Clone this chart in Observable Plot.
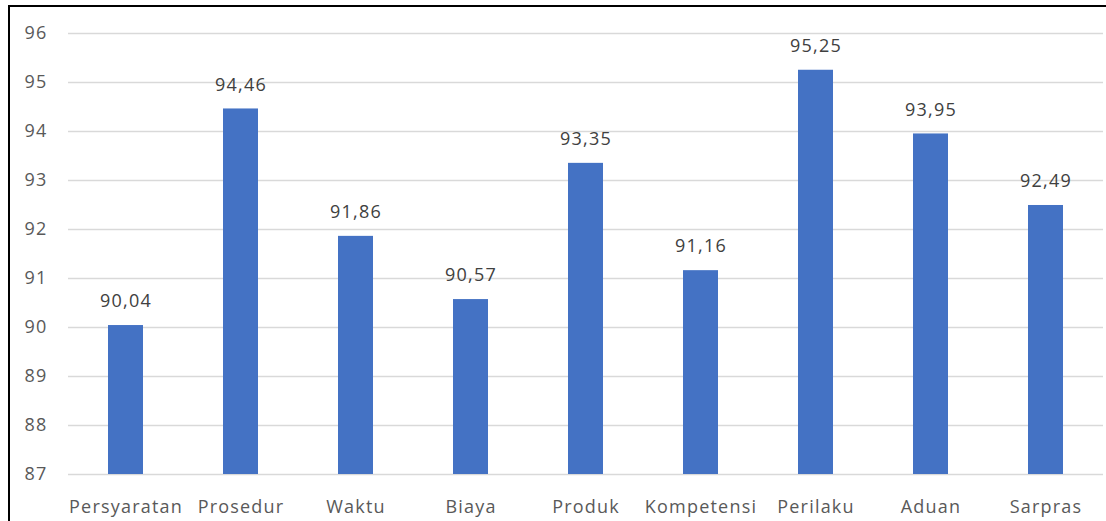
<!DOCTYPE html>
<html><head><meta charset="utf-8">
<script src="https://cdn.jsdelivr.net/npm/d3@7"></script>
<script src="https://cdn.jsdelivr.net/npm/@observablehq/plot@0.6"></script>
<style>
html,body{margin:0;padding:0;background:#fff;}
#wrap{position:relative;width:1106px;height:521px;overflow:hidden;}
#frame{position:absolute;left:8px;top:5px;width:1200px;height:600px;border-left:2px solid #000;border-top:2px solid #000;box-sizing:border-box;}
#chart{position:absolute;left:0;top:0;}
#chart svg text{letter-spacing:1.2px;}
</style></head>
<body><div id="wrap"><div id="chart"></div><div id="frame"></div></div>
<script>
const categories = ["Persyaratan","Prosedur","Waktu","Biaya","Produk","Kompetensi","Perilaku","Aduan","Sarpras"];
const values = [90.04,94.46,91.86,90.57,93.35,91.16,95.25,93.95,92.49];
const yTicks = [87,88,89,90,91,92,93,94,95,96];

const data = categories.map((c,i)=>({cat:c, v:values[i]}));
const fmt = v => v.toFixed(2).replace(".", ",");
const font = "'Open Sans', sans-serif";

const chart = Plot.plot({
  width: 1106, height: 521,
  marginLeft: 68, marginRight: 3, marginTop: 33, marginBottom: 47,
  style: {fontFamily: font, fontSize: "18px", color: "#595959", background: "transparent"},
  x: {domain: categories, paddingInner: 0.7, paddingOuter: 0.35, label: null},
  y: {domain: [87, 96], label: null},
  marks: [
    Plot.ruleY(yTicks, {stroke: "#d9d9d9", strokeWidth: 1.5}),
    Plot.barY(data, {x: "cat", y1: 87, y2: "v", fill: "#4472C4"}),
    Plot.text(data, {x: "cat", y: "v", text: d => fmt(d.v), dy: -24, fill: "#404040", fontSize: 18}),
    Plot.axisY(yTicks, {tickSize: 0, tickPadding: 0, dx: -21, textAnchor: "end", fill: "#595959", fontSize: 18, label: null, tickFormat: d => String(d)}),
    Plot.axisX({tickSize: 0, tickPadding: 26, fill: "#595959", fontSize: 18, label: null})
  ]
});
document.getElementById("chart").appendChild(chart);
</script>
</body></html>
